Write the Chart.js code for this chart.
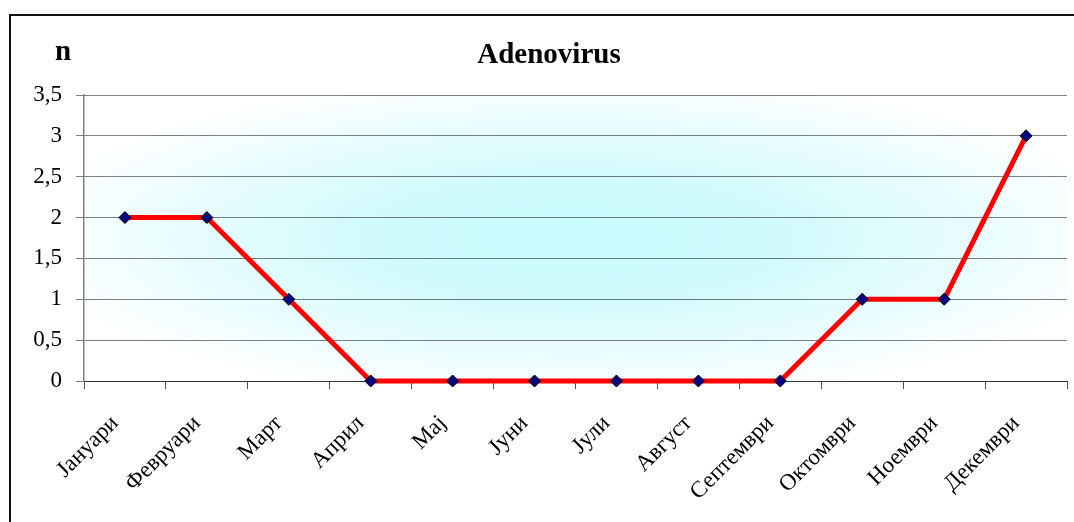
<!DOCTYPE html>
<html>
<head>
<meta charset="utf-8">
<script src="https://cdn.jsdelivr.net/npm/chart.js@4.4.1/dist/chart.umd.min.js"></script>
<style>
  html, body { margin: 0; padding: 0; background: #fff; }
  #wrap { position: relative; width: 1074px; height: 522px; overflow: hidden; }
  #frame { position: absolute; left: 9px; top: 14px; width: 1200px; height: 700px;
           border: 2px solid #111; box-sizing: border-box; }
  canvas { position: absolute; left: 0; top: 0; }
</style>
</head>
<body>
<div id="wrap">
  <div id="frame"></div>
  <canvas id="chart" width="1074" height="522"></canvas>
</div>
<script>
// Monthly Adenovirus cases
const months = ['Јануари', 'Февруари', 'Март', 'Април', 'Мај', 'Јуни', 'Јули',
                'Август', 'Септември', 'Октомври', 'Ноември', 'Декември'];
const cases = [2, 2, 1, 0, 0, 0, 0, 0, 0, 1, 1, 3];
const yTicks = [0, 0.5, 1, 1.5, 2, 2.5, 3, 3.5];
const chartTitle = 'Adenovirus';
const yUnit = 'n';

const serif = '"Liberation Serif", "Times New Roman", serif';

// Soft cyan glow behind the plot area, fading to white at the edges
const plotGlow = {
  id: 'plotGlow',
  beforeDraw(chart) {
    const { ctx, chartArea: a } = chart;
    const cx = (a.left + a.right) / 2;
    const cy = (a.top + a.bottom) / 2;
    const rx = (a.right - a.left) / 2;
    const ry = (a.bottom - a.top) / 2;
    ctx.save();
    ctx.beginPath();
    ctx.rect(a.left, a.top, a.right - a.left, a.bottom - a.top);
    ctx.clip();
    ctx.translate(cx, cy);
    ctx.scale(rx / ry, 1);
    const g = ctx.createRadialGradient(0, 0, 0, 0, 0, ry * 1.15);
    g.addColorStop(0, 'rgb(200,252,252)');
    g.addColorStop(0.35, 'rgb(208,250,252)');
    g.addColorStop(1, 'rgb(255,255,255)');
    ctx.fillStyle = g;
    ctx.fillRect(-ry * 1.3, -ry * 1.3, ry * 2.6, ry * 2.6);
    ctx.restore();
  }
};

// Heading and the unit label above the value axis
const headings = {
  id: 'headings',
  afterDraw(chart) {
    const { ctx } = chart;
    ctx.save();
    ctx.fillStyle = '#000';
    ctx.textBaseline = 'alphabetic';
    ctx.font = 'bold 29px ' + serif;
    ctx.textAlign = 'center';
    ctx.fillText(chartTitle, 549, 63);
    ctx.textAlign = 'left';
    ctx.fillText(yUnit, 55, 60);
    ctx.restore();
  }
};

new Chart(document.getElementById('chart'), {
  type: 'line',
  data: {
    labels: months,
    datasets: [{
      data: cases,
      borderColor: '#ff0000',
      borderWidth: 5,
      tension: 0,
      pointStyle: 'rectRot',
      pointRadius: 6,
      pointHoverRadius: 6,
      pointBackgroundColor: '#000080',
      pointBorderColor: '#000',
      pointBorderWidth: 1,
      clip: false
    }]
  },
  options: {
    responsive: false,
    animation: false,
    events: [],
    layout: { padding: { left: 0, right: 4, top: 95, bottom: 0 } },
    plugins: { legend: { display: false }, tooltip: { enabled: false }, title: { display: false } },
    scales: {
      x: {
        offset: true,
        grid: {
          offset: true,
          drawOnChartArea: false,
          drawTicks: true,
          tickLength: 8,
          tickColor: '#555',
          tickWidth: 1
        },
        border: { color: '#333', width: 1 },
        ticks: {
          color: '#000',
          font: { family: serif, size: 23 },
          minRotation: 45,
          maxRotation: 45,
          padding: 21,
          labelOffset: -10,
          autoSkip: false
        },
        afterFit(scale) { scale.height = 141; }
      },
      y: {
        min: 0,
        max: 3.5,
        afterBuildTicks(scale) { scale.ticks = yTicks.map(v => ({ value: v })); },
        grid: {
          color: '#000',
          lineWidth: 1,
          tickLength: 8,
          tickColor: '#808080',
          tickBorderDash: [],
          drawTicks: true
        },
        border: { color: '#808080', width: 1.5, dash: [1, 1] },
        ticks: {
          color: '#000',
          font: { family: serif, size: 23 },
          padding: 14,
          callback: v => String(v).replace('.', ',')
        },
        afterFit(scale) { scale.width = 84; }
      }
    }
  },
  plugins: [plotGlow, headings]
});
</script>
</body>
</html>
